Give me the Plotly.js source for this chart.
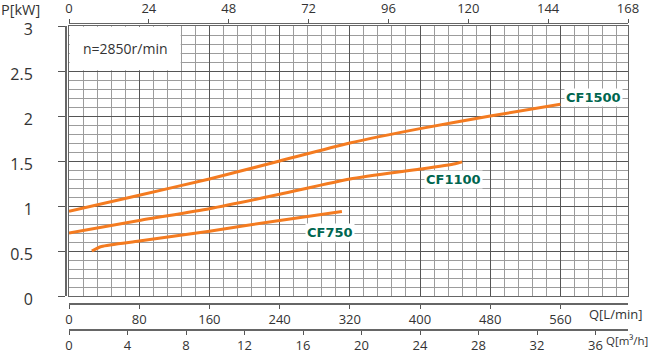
<!DOCTYPE html>
<html>
<head>
<meta charset="utf-8">
<script src="https://cdn.plot.ly/plotly-3.0.1.min.js"></script>
<style>html,body{margin:0;padding:0;background:#fff;}#chart{width:648px;height:353px;}</style>
</head>
<body>
<div id="chart"></div>
<script>
// Flow Q [L/min] and power P [kW]
const q1500 = [0, 80, 160, 240, 320, 400, 480, 560];
const p1500 = [0.94, 1.12, 1.30, 1.50, 1.70, 1.86, 2.00, 2.13];
const q1100 = [0, 80, 160, 240, 320, 400, 440, 448];
const p1100 = [0.70, 0.84, 0.97, 1.13, 1.30, 1.41, 1.47, 1.49];
const q750 = [26, 37, 80, 160, 240, 311];
const p750 = [0.50, 0.55, 0.61, 0.72, 0.84, 0.94];
const seriesNames = ["CF1500", "CF1100", "CF750"];
const speedText = "n=2850r/min";
const topTicks = [0, 24, 48, 72, 96, 120, 144, 168];
const lminTicks = [0, 80, 160, 240, 320, 400, 480, 560];
const m3hTicks = [0, 4, 8, 12, 16, 20, 24, 28, 32, 36];
const yTicks = [0, 0.5, 1, 1.5, 2, 2.5, 3];
const yTickText = ["0", "0.5", "1", "1.5", "2", "2.5", "3"];

const orange = "#f47b20";
const green = "#00664f";
const font = "Open Sans, Noto Sans, sans-serif";

const xDom = [69/648, 628/648];
const yDom = [1 - 296/353, 1 - 26/353];
const xMax = 637;

function curve(x, y, name) {
  return {x: x, y: y, name: name, type: "scatter", mode: "lines",
    line: {color: orange, width: 3, shape: "spline", smoothing: 0.6},
    hoverinfo: "skip", showlegend: false, xaxis: "x", yaxis: "y"};
}
// invisible helper traces so the extra scale axes are drawn
function axisHolder(x, y, xa, ya) {
  return {x: x, y: y, type: "scatter", mode: "markers", marker: {opacity: 0, size: 1},
    hoverinfo: "skip", showlegend: false, xaxis: xa, yaxis: ya};
}
const data = [
  curve(q1500, p1500, seriesNames[0]),
  curve(q1100, p1100, seriesNames[1]),
  curve(q750, p750, seriesNames[2]),
  axisHolder(topTicks, topTicks.map(() => 0), "x2", "y"),
  axisHolder(lminTicks, lminTicks.map(() => 0), "x3", "y"),
  axisHolder(m3hTicks, m3hTicks.map(() => 0), "x4", "y"),
  axisHolder(yTicks.map(() => 0), yTicks, "x", "y2")
];

const tickFont = {family: font, size: 13, color: "#333"};

const layout = {
  width: 648, height: 353,
  margin: {l: 0, r: 0, t: 0, b: 0, pad: 0},
  paper_bgcolor: "#fff", plot_bgcolor: "#fff",
  showlegend: false,
  xaxis: {domain: xDom, range: [0, xMax], anchor: "y",
    tick0: 0, dtick: 80, showgrid: true, gridcolor: "#555", gridwidth: 1,
    minor: {dtick: 16, showgrid: true, gridcolor: "#9c9c9c", gridwidth: 1},
    showticklabels: false, ticks: "", zeroline: false,
    showline: true, mirror: true, linecolor: "#666", linewidth: 1, automargin: false},
  yaxis: {domain: yDom, range: [0, 3], anchor: "x",
    tick0: 0, dtick: 0.5, showgrid: true, gridcolor: "#555", gridwidth: 1,
    minor: {dtick: 0.1, showgrid: true, gridcolor: "#9c9c9c", gridwidth: 1},
    showticklabels: false, ticks: "", zeroline: false,
    showline: true, mirror: true, linecolor: "#666", linewidth: 1, automargin: false},
  xaxis2: {overlaying: "x", anchor: "free", position: 1 - 22.5/353, side: "top",
    domain: xDom, range: [0, 168], tickmode: "array", tickvals: topTicks,
    ticks: "outside", ticklen: 4, tickcolor: "#555", showgrid: false, zeroline: false,
    showline: true, linecolor: "#666", linewidth: 1.5, tickfont: tickFont, automargin: false},
  xaxis3: {overlaying: "x", anchor: "free", position: 1 - 303/353, side: "bottom",
    domain: xDom, range: [0, xMax], tickmode: "array", tickvals: lminTicks,
    ticks: "outside", ticklen: 4, tickcolor: "#555", showgrid: false, zeroline: false,
    showline: true, linecolor: "#666", linewidth: 1.5, tickfont: tickFont, automargin: false},
  xaxis4: {overlaying: "x", anchor: "free", position: 1 - 329/353, side: "bottom",
    domain: xDom, range: [0, xMax / (1000/60)], tickmode: "array", tickvals: m3hTicks,
    ticks: "outside", ticklen: 4, tickcolor: "#555", showgrid: false, zeroline: false,
    showline: true, linecolor: "#666", linewidth: 1.5, tickfont: tickFont, automargin: false},
  yaxis2: {overlaying: "y", anchor: "free", position: 65/648, side: "left",
    domain: yDom, range: [0, 3], tickmode: "array", tickvals: yTicks, ticktext: yTickText,
    ticks: "outside", ticklen: 7, tickcolor: "#555", showgrid: false, zeroline: false,
    showline: true, linecolor: "#666", linewidth: 1.5, ticklabelstandoff: 22, ticklabelshift: 3,
    tickfont: {family: font, size: 16, color: "#333"}, automargin: false},
  shapes: [
    {type: "rect", xref: "x", yref: "y", x0: 0.8, x1: 127.3, y0: 2.508, y1: 2.993,
     fillcolor: "#fff", line: {width: 0}, layer: "above"}
  ],
  annotations: [
    {text: speedText, xref: "x", yref: "y", x: 64, y: 2.75, showarrow: false,
     font: {family: font, size: 14, color: "#333"}},
    {text: seriesNames[0], xref: "x", yref: "y", x: 598, y: 2.2, showarrow: false,
     bgcolor: "#fff", borderpad: 1, font: {family: "DejaVu Sans", size: 13, color: green, weight: "bold"}},
    {text: seriesNames[1], xref: "x", yref: "y", x: 437.6, y: 1.297, showarrow: false,
     bgcolor: "#fff", borderpad: 1, font: {family: "DejaVu Sans", size: 13, color: green, weight: "bold"}},
    {text: seriesNames[2], xref: "x", yref: "y", x: 297.4, y: 0.711, showarrow: false,
     bgcolor: "#fff", borderpad: 1, font: {family: "DejaVu Sans", size: 13, color: green, weight: "bold"}},
    {text: "P[kW]", xref: "paper", yref: "paper", x: 0, y: 1 - 9.5/353, xanchor: "left", yanchor: "middle",
     showarrow: false, borderpad: 0, font: {family: font, size: 14.5, color: "#333"}},
    {text: "Q[L/min]", xref: "paper", yref: "paper", x: 587/648, y: 1 - 314/353, xanchor: "left", yanchor: "middle",
     showarrow: false, font: {family: font, size: 13, color: "#333"}},
    {text: "Q[m³/h]", xref: "paper", yref: "paper", x: 604/648, y: 1 - 340/353, xanchor: "left", yanchor: "middle",
     showarrow: false, font: {family: font, size: 11.5, color: "#333"}}
  ]
};

Plotly.newPlot("chart", data, layout, {staticPlot: true, displayModeBar: false});
</script>
</body>
</html>
